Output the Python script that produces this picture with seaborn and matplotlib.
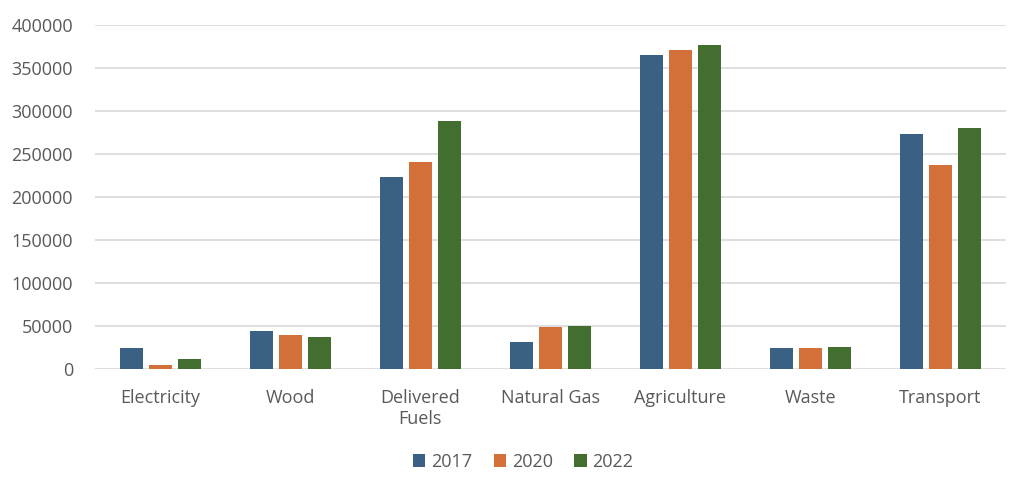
import pandas as pd
import matplotlib.pyplot as plt
import seaborn as sns

# Values
categories = ["Electricity", "Wood", "Delivered\nFuels", "Natural Gas",
              "Agriculture", "Waste", "Transport"]
years = ["2017", "2020", "2022"]
values_2017 = [25000, 45000, 224000, 32000, 365000, 25000, 274000]
values_2020 = [5500, 40000, 241000, 49000, 371000, 25000, 238000]
values_2022 = [11500, 37500, 289000, 50500, 376500, 26000, 280000]

df = pd.DataFrame({
    "category": categories * 3,
    "year": [years[0]] * 7 + [years[1]] * 7 + [years[2]] * 7,
    "value": values_2017 + values_2020 + values_2022,
})

palette = {"2017": "#3A6083", "2020": "#D3703A", "2022": "#426E2F"}

sns.set_theme(style="white")
plt.rcParams['font.family'] = ['Open Sans', 'DejaVu Sans']

fig, ax = plt.subplots(figsize=(10.24, 4.86), dpi=100)
fig.subplots_adjust(left=0.093, right=0.982, top=0.948, bottom=0.24)

sns.barplot(data=df, x="category", y="value", hue="year", palette=palette,
            width=0.67, gap=0.22, ax=ax, saturation=1, linewidth=0)

ax.set_ylim(0, 400000)
ax.set_yticks(range(0, 400001, 50000))
ax.yaxis.grid(True, color="#D9D9D9", linewidth=1.2)
ax.set_axisbelow(True)
for s in ax.spines.values():
    s.set_visible(False)
ax.set_xlabel("")
ax.set_ylabel("")
ax.tick_params(axis="both", colors="#595959", labelsize=13, length=0)
ax.tick_params(axis="y", pad=16)
ax.tick_params(axis="x", pad=14)

ax.legend(loc="upper center", bbox_to_anchor=(0.47, -0.195), ncol=3, frameon=False,
          fontsize=13, handlelength=0.7, handleheight=0.7, handletextpad=0.3,
          columnspacing=1.2, labelcolor="#595959")

fig.savefig("out.png", dpi=100)
